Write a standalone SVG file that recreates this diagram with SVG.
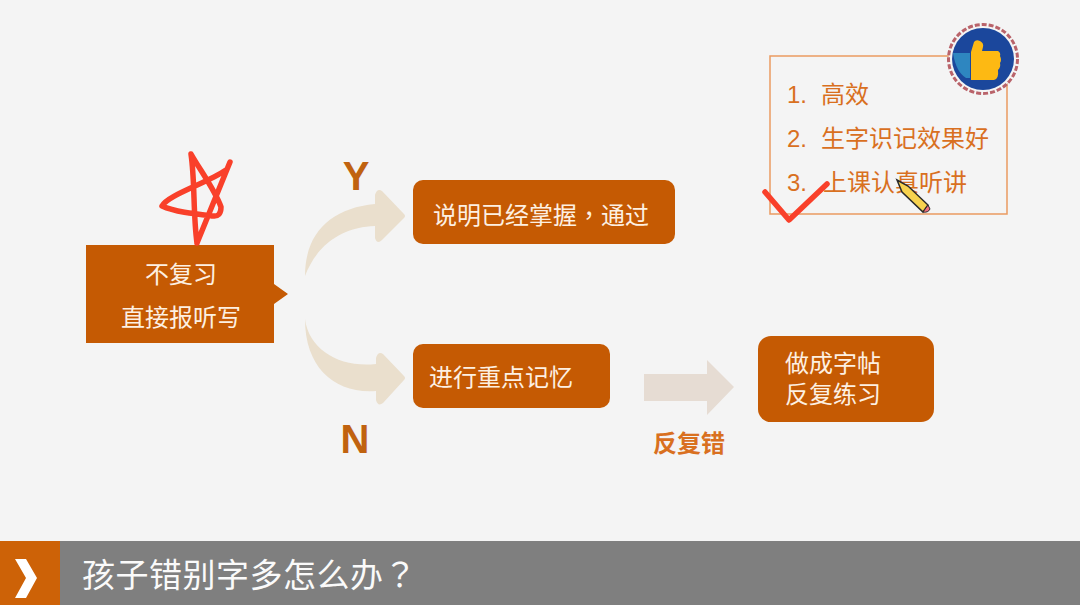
<svg xmlns="http://www.w3.org/2000/svg" width="1080" height="605" viewBox="0 0 1080 605">
<style>
text{font-family:"Liberation Sans","Noto Sans CJK SC",sans-serif}
.w{fill:#fdf0e2;font-size:24px}
.o{fill:#d9701f;font-size:24px}
.box{fill:#c55a03}
.arr{fill:#eadfcd}
.tc{font-family:"Noto Sans CJK TC",sans-serif}
.ink{fill:none;stroke:#f9402a;stroke-width:5.5;stroke-linecap:round;stroke-linejoin:round}
</style>
<rect width="1080" height="605" fill="#f4f4f4"/>
<g id="connectors">
<path class="arr" d="M305 276C305 232 332 208 375 204L375 195Q377 188 382 191L404 214Q406 216 404 218L382 240Q377 245 375 238L375 226C345 227 318 242 305 276Z"/>
<path class="arr" d="M305 319C309 350 340 368 376 364L376 358Q378 351 383 354L404 376Q406 378 404 380L383 403Q378 407 376 400L376 391C335 394 305 368 305 319Z"/>
<path fill="#e6dcd3" d="M644 374H707V360L734 387L707 415V401H644Z"/>
</g>
<g id="node-start">
<path class="box" d="M86 245H274V284L288 294L274 304V343H86Z"/>
<text class="w" x="181" y="283" text-anchor="middle">不复习</text>
<text class="w" x="181" y="326" text-anchor="middle">直接报听写</text>
</g>
<g id="label-y"><text x="356" y="190" text-anchor="middle" font-size="40" font-weight="700" fill="#c0620f">Y</text></g>
<g id="label-n"><text x="355" y="453" text-anchor="middle" font-size="40" font-weight="700" fill="#c0620f">N</text></g>
<g id="node-pass">
<rect class="box" x="413" y="180" width="262" height="64" rx="10"/>
<text class="w" x="433" y="224">说明已经掌握<tspan class="tc">，</tspan>通过</text>
</g>
<g id="node-memorize">
<rect class="box" x="413" y="344" width="197" height="64" rx="10"/>
<text class="w" x="429" y="386">进行重点记忆</text>
</g>
<g id="node-copybook">
<rect class="box" x="758" y="336" width="176" height="86" rx="13"/>
<text class="w" x="785" y="372">做成字帖</text>
<text class="w" x="785" y="403">反复练习</text>
</g>
<g id="label-repeat"><text x="689" y="452" text-anchor="middle" font-size="24" font-weight="700" fill="#d9701f">反复错</text></g>
<g id="node-list">
<rect x="770" y="56" width="237" height="158" fill="none" stroke="#ea9a60" stroke-width="1.5"/>
<text class="o" x="787" y="103">1.</text><text class="o" x="821" y="103">高效</text>
<text class="o" x="787" y="147">2.</text><text class="o" x="821" y="147">生字识记效果好</text>
<text class="o" x="787" y="191">3.</text><text class="o" x="823" y="191">上课认真听讲</text>
</g>
<g id="badge">
<circle cx="983" cy="59" r="34.5" fill="#f4f4f4" stroke="#b9636a" stroke-width="3" stroke-dasharray="5 2"/>
<circle cx="983" cy="59" r="31" fill="#1b479c"/>
<path fill="#2e86c0" d="M953 53H970V78H966Q956 72 953 53Z"/>
<path fill="#fdb913" d="M971 52L974 42Q976 39 980 41Q984 43 983 47L982 51H998Q1001 53 1000 56Q1002 60 1000 63Q1001 67 998 70Q999 79 994 80H971Z"/>
</g>
<g id="annotations">
<path class="ink" d="M197 243C193 215 195 180 191 154C200 170 215 190 221 207Q221 217 213 216C195 214 175 212 162 206C168 195 205 184 226 170M230 162L197 243"/>
<path class="ink" d="M765 192L789 220L827 184"/>
</g>
<g id="pencil">
<path fill="#f7d24f" stroke="#2a2a2a" stroke-width="1.5" d="M897 180L908 186L928 205L923 212L902 192Z"/>
<path fill="#ee6f7d" stroke="#2a2a2a" stroke-width="1" d="M923 212L928 205L930 209Q928 213 923 212Z"/>
</g>
<g id="footer">
<rect y="541" width="1080" height="64" fill="#7f7f7f"/>
<rect y="541" width="60" height="64" fill="#cd6207"/>
<path fill="#fff" d="M15 559H26L37 578L26 598H15L26 578Z"/>
<text x="82" y="587" font-size="33" fill="#fafafa" letter-spacing="0.5">孩子错别字多怎么办<tspan class="tc">？</tspan></text>
</g>
</svg>
